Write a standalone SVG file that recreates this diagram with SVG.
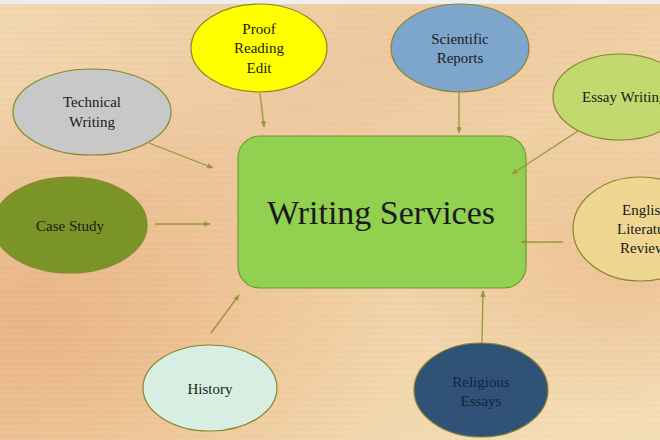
<svg xmlns="http://www.w3.org/2000/svg" width="660" height="440" viewBox="0 0 660 440">
<defs>
<linearGradient id="bg" x1="0" y1="0" x2="1" y2="1">
<stop offset="0" stop-color="#f2d8b0"/>
<stop offset="0.35" stop-color="#eec89e"/>
<stop offset="0.6" stop-color="#f1d2a6"/>
<stop offset="1" stop-color="#f4deb8"/>
</linearGradient>
<radialGradient id="warm" cx="0.05" cy="0.75" r="0.55">
<stop offset="0" stop-color="#e6a772" stop-opacity="0.6"/>
<stop offset="1" stop-color="#e6a772" stop-opacity="0"/>
</radialGradient>
<radialGradient id="warm2" cx="0.95" cy="0.6" r="0.35">
<stop offset="0" stop-color="#e7ad7a" stop-opacity="0.5"/>
<stop offset="1" stop-color="#e7ad7a" stop-opacity="0"/>
</radialGradient>
<pattern id="grain" width="660" height="6" patternUnits="userSpaceOnUse">
<rect width="660" height="1" fill="#ffffff" opacity="0.06"/>
<rect y="3" width="660" height="1" fill="#b07040" opacity="0.03"/>
</pattern>
<marker id="arr" viewBox="0 0 10 10" refX="9" refY="5" markerWidth="5" markerHeight="5" orient="auto">
<path d="M0,1 L10,5 L0,9 Z" fill="#94983a"/>
</marker>
</defs>
<style>
.n{stroke:#86862e;stroke-width:1.2}
.t{font-family:"Liberation Serif","DejaVu Serif",serif;font-size:15px;fill:#1a1a1a;text-anchor:middle}
.c line{stroke:#94983a;stroke-width:1.3;marker-end:url(#arr)}
</style>
<rect width="660" height="440" fill="url(#bg)"/>
<rect width="660" height="440" fill="url(#warm)"/>
<rect width="660" height="440" fill="url(#warm2)"/>
<rect width="660" height="440" fill="url(#grain)"/>
<rect width="660" height="4" fill="#eeeeee"/>
<g id="center">
<rect x="238" y="136" width="288" height="152" rx="22" fill="#92d050" stroke="#6f9a36" stroke-width="1.2"/>
<text x="381" y="224" style="font-family:'Liberation Serif','DejaVu Serif',serif;font-size:34px;fill:#1a1a1a;text-anchor:middle">Writing Services</text>
</g>
<g id="proof">
<ellipse class="n" cx="259" cy="48" rx="68" ry="44" fill="#ffff00"/>
<text class="t" x="259" y="34">Proof</text>
<text class="t" x="259" y="53">Reading</text>
<text class="t" x="259" y="73">Edit</text>
</g>
<g id="technical">
<ellipse class="n" cx="92" cy="112" rx="79" ry="43" fill="#c8c8c8"/>
<text class="t" x="92" y="107">Technical</text>
<text class="t" x="92" y="127">Writing</text>
</g>
<g id="case">
<ellipse class="n" cx="70" cy="225" rx="77" ry="48" fill="#7b9428"/>
<text class="t" x="70" y="231">Case Study</text>
</g>
<g id="scientific">
<ellipse class="n" cx="460" cy="48" rx="69" ry="44" fill="#7ea6cd"/>
<text class="t" x="460" y="44">Scientific</text>
<text class="t" x="460" y="63">Reports</text>
</g>
<g id="essay">
<ellipse class="n" cx="620" cy="97" rx="67" ry="43" fill="#c3d96f"/>
<text class="t" x="582" y="102" style="text-anchor:start">Essay Writing</text>
</g>
<g id="english">
<ellipse class="n" cx="640" cy="229" rx="67" ry="52" fill="#efd792"/>
<text class="t" x="622" y="215" style="text-anchor:start">English</text>
<text class="t" x="617" y="234" style="text-anchor:start">Literature</text>
<text class="t" x="620" y="253" style="text-anchor:start">Review</text>
</g>
<g id="history">
<ellipse class="n" cx="210" cy="388" rx="67" ry="43" fill="#d7efe3"/>
<text class="t" x="210" y="394">History</text>
</g>
<g id="religious">
<ellipse class="n" cx="481" cy="390" rx="67" ry="47" fill="#2f5276"/>
<text class="t" x="481" y="387" style="fill:#15243a">Religious</text>
<text class="t" x="481" y="406" style="fill:#15243a">Essays</text>
</g>
<g class="c" id="connectors">
<line x1="260" y1="93" x2="264" y2="127"/>
<line x1="149" y1="143" x2="213" y2="168"/>
<line x1="155" y1="224" x2="210" y2="224"/>
<line x1="459" y1="92" x2="459" y2="133"/>
<line x1="578" y1="131" x2="512" y2="174"/>
<line x1="563" y1="242" x2="521" y2="242"/>
<line x1="211" y1="333" x2="239" y2="295"/>
<line x1="482" y1="343" x2="483" y2="291"/>
</g>
</svg>
